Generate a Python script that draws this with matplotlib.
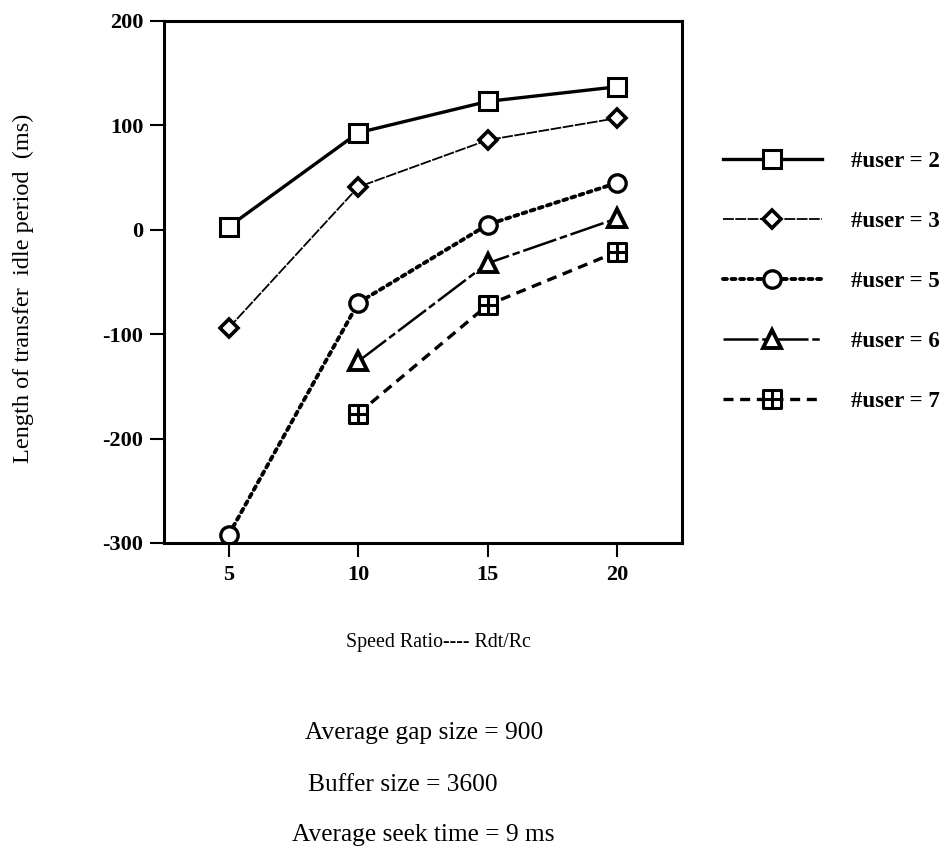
import matplotlib.pyplot as plt
from matplotlib.path import Path
from matplotlib.legend_handler import HandlerLine2D

plt.rcParams['font.family'] = ['Liberation Serif', 'DejaVu Serif']
plt.rcParams['axes.unicode_minus'] = False

# data
ratio = [5, 10, 15, 20]
ratio_hi = [10, 15, 20]
user2 = [3, 93, 123, 137]
user3 = [-94, 41, 86, 107]
user5 = [-292, -70, 5, 45]
user6 = [-126, -32, 11]
user7 = [-176, -72, -21]

labels = ['#user = 2', '#user = 3', '#user = 5', '#user = 6', '#user = 7']
notes = ['Average gap size = 900', 'Buffer size = 3600', 'Average seek time = 9 ms']

# square with a cross inside
boxplus = Path([(-1, -1), (1, -1), (1, 1), (-1, 1), (-1, -1),
                (0, -1), (0, 1), (-1, 0), (1, 0)],
               [Path.MOVETO, Path.LINETO, Path.LINETO, Path.LINETO, Path.CLOSEPOLY,
                Path.MOVETO, Path.LINETO, Path.MOVETO, Path.LINETO])

fig = plt.figure(figsize=(9.48, 8.48), dpi=100)
ax = fig.add_axes([164 / 948, 1 - 543 / 848, 518 / 948, 522 / 848])

mk = dict(color='black', markerfacecolor='white', markeredgecolor='black')
l2, = ax.plot(ratio, user2, '-', lw=2.4, marker='s', ms=13, mew=2.2, **mk)
l3, = ax.plot(ratio, user3, ls=(0, (6, 0.8)), lw=1.3, marker='D', ms=9.5, mew=2.6, **mk)
l5, = ax.plot(ratio, user5, ls=(0, (1, 1.2)), lw=2.8, marker='o', ms=12.5, mew=2.4,
              dash_capstyle='round', **mk)
l6, = ax.plot(ratio_hi, user6, ls=(0, (14, 1.5, 3, 1.5)), lw=1.8, marker='^', ms=13.5, mew=2.8, **mk)
l7, = ax.plot(ratio_hi, user7, ls=(0, (3, 2)), lw=2.4, marker=boxplus, ms=12.5, mew=2.2, **mk)

ax.set_xlim(2.5, 22.5)
ax.set_ylim(-300, 200)
ax.set_xticks(ratio)
ax.set_yticks([-300, -200, -100, 0, 100, 200])
for s in ax.spines.values():
    s.set_linewidth(2.2)
ax.tick_params(direction='out', length=10, width=1.5, labelsize=16)
ax.tick_params(axis='x', pad=6)
ax.tick_params(axis='y', pad=5)
for t in ax.get_xticklabels() + ax.get_yticklabels():
    t.set_fontweight('bold')

fig.text(23 / 948, 1 - 288 / 848, 'Length of transfer  idle period  (ms)', rotation=90,
         ha='center', va='center', fontsize=17.5)
fig.text(438 / 948, 1 - 643 / 848, 'Speed Ratio---- Rdt/Rc', ha='center', va='center',
         fontsize=14.3)

leg = fig.legend([l2, l3, l5, l6, l7], labels, loc='upper left',
                 bbox_to_anchor=(723 / 948, 1 - 151 / 848), frameon=False,
                 borderpad=0, borderaxespad=0,
                 handlelength=4.3, handletextpad=1.3, labelspacing=1.7,
                 prop={'size': 16.5, 'weight': 'bold'},
                 handler_map={l: HandlerLine2D(numpoints=1) for l in [l2, l3, l5, l6, l7]})

for txt, x, y in zip(notes, [424, 403, 423], [733, 785, 835]):
    fig.text(x / 948, 1 - y / 848, txt, ha='center', va='center', fontsize=18.3)

fig.savefig('out.png', dpi=100)
